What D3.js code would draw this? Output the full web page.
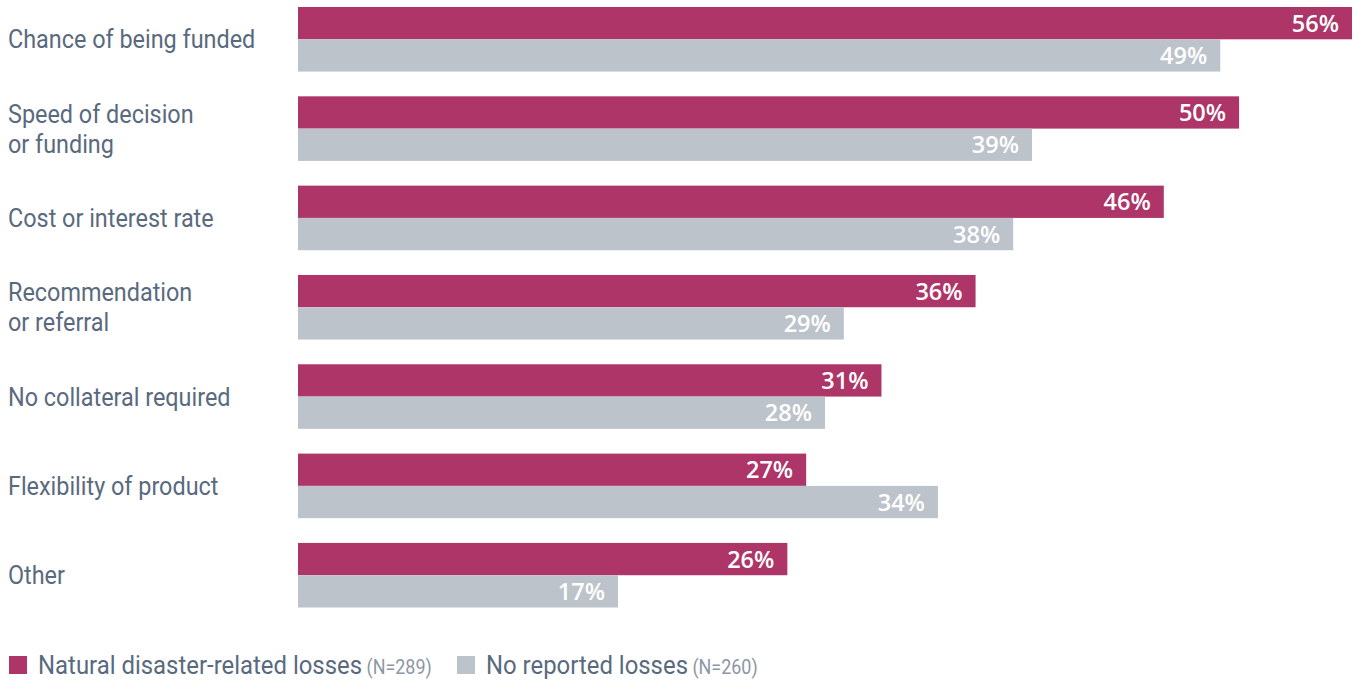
<!DOCTYPE html>
<html>
<head>
<meta charset="utf-8">
<script src="https://cdn.jsdelivr.net/npm/d3@7/dist/d3.min.js"></script>
<style>
  html, body { margin: 0; padding: 0; background: #fff; }
  svg { display: block; }
</style>
</head>
<body>
<svg id="chart" width="1353" height="681"></svg>
<script>
// Reasons for choosing a lender, by loss experience
const categories = [
  ["Chance of being funded"],
  ["Speed of decision", "or funding"],
  ["Cost or interest rate"],
  ["Recommendation", "or referral"],
  ["No collateral required"],
  ["Flexibility of product"],
  ["Other"]
];
const disasterLosses = [56, 50, 46, 36, 31, 27, 26];
const noLosses = [49, 39, 38, 29, 28, 34, 17];
const seriesNames = ["Natural disaster-related losses", "No reported losses"];
const seriesNotes = ["(N=289)", "(N=260)"];

const colors = ["#AD3568", "#BDC3CA"];
const labelColor = "#5A6A7E";
const noteColor = "#8C97A4";
const squeeze = 0.9; // narrow the Roboto face to a condensed look

const svg = d3.select("#chart");
const x0 = 298;

const x = d3.scaleLinear().domain([0, 56]).range([x0, 1352]);
const y = d3.scaleBand()
  .domain(d3.range(categories.length))
  .range([7, 607.5])
  .paddingInner(0.277)
  .paddingOuter(0);
const sub = d3.scaleBand().domain([0, 1]).range([0, y.bandwidth()]);

const rows = svg.append("g").selectAll("g")
  .data(categories)
  .join("g")
  .attr("transform", (d, i) => `translate(0,${y(i)})`);

const seriesData = [disasterLosses, noLosses];

seriesData.forEach((vals, s) => {
  rows.append("rect")
    .attr("x", x0)
    .attr("y", sub(s))
    .attr("width", (d, i) => x(vals[i]) - x0)
    .attr("height", sub.bandwidth())
    .attr("fill", colors[s]);

  rows.append("text")
    .attr("x", (d, i) => x(vals[i]) - 13)
    .attr("y", sub(s) + sub.bandwidth() / 2 + 8.5)
    .attr("text-anchor", "end")
    .attr("font-family", "'Open Sans', sans-serif")
    .attr("font-weight", 600)
    .attr("font-size", 23.5)
    .attr("fill", "#fff")
    .text((d, i) => vals[i] + "%");
});

// Category labels
rows.each(function(lines) {
  const g = d3.select(this);
  const mid = y.bandwidth() / 2;
  const startY = lines.length === 1 ? mid + 9 : mid - 6;
  lines.forEach((line, k) => {
    g.append("text")
      .attr("transform", `translate(8,${startY + k * 30}) scale(${squeeze},1)`)
      .attr("font-family", "Roboto, sans-serif")
      .attr("font-size", 26)
      .attr("fill", labelColor)
      .text(line);
  });
});

// Legend
const legendX = [9, 457];
const legend = svg.append("g");
seriesNames.forEach((name, s) => {
  const lg = legend.append("g").attr("transform", `translate(${legendX[s]},0)`);
  lg.append("rect")
    .attr("x", 0).attr("y", 656)
    .attr("width", 18).attr("height", 18)
    .attr("fill", colors[s]);
  const t = lg.append("text")
    .attr("transform", `translate(29,674) scale(0.92,1)`)
    .attr("font-family", "Roboto, sans-serif")
    .attr("font-size", 26)
    .attr("fill", labelColor);
  t.append("tspan").text(name);
  t.append("tspan")
    .attr("font-size", 19.5)
    .attr("fill", noteColor)
    .text(" " + seriesNotes[s]);
});
</script>
</body>
</html>
